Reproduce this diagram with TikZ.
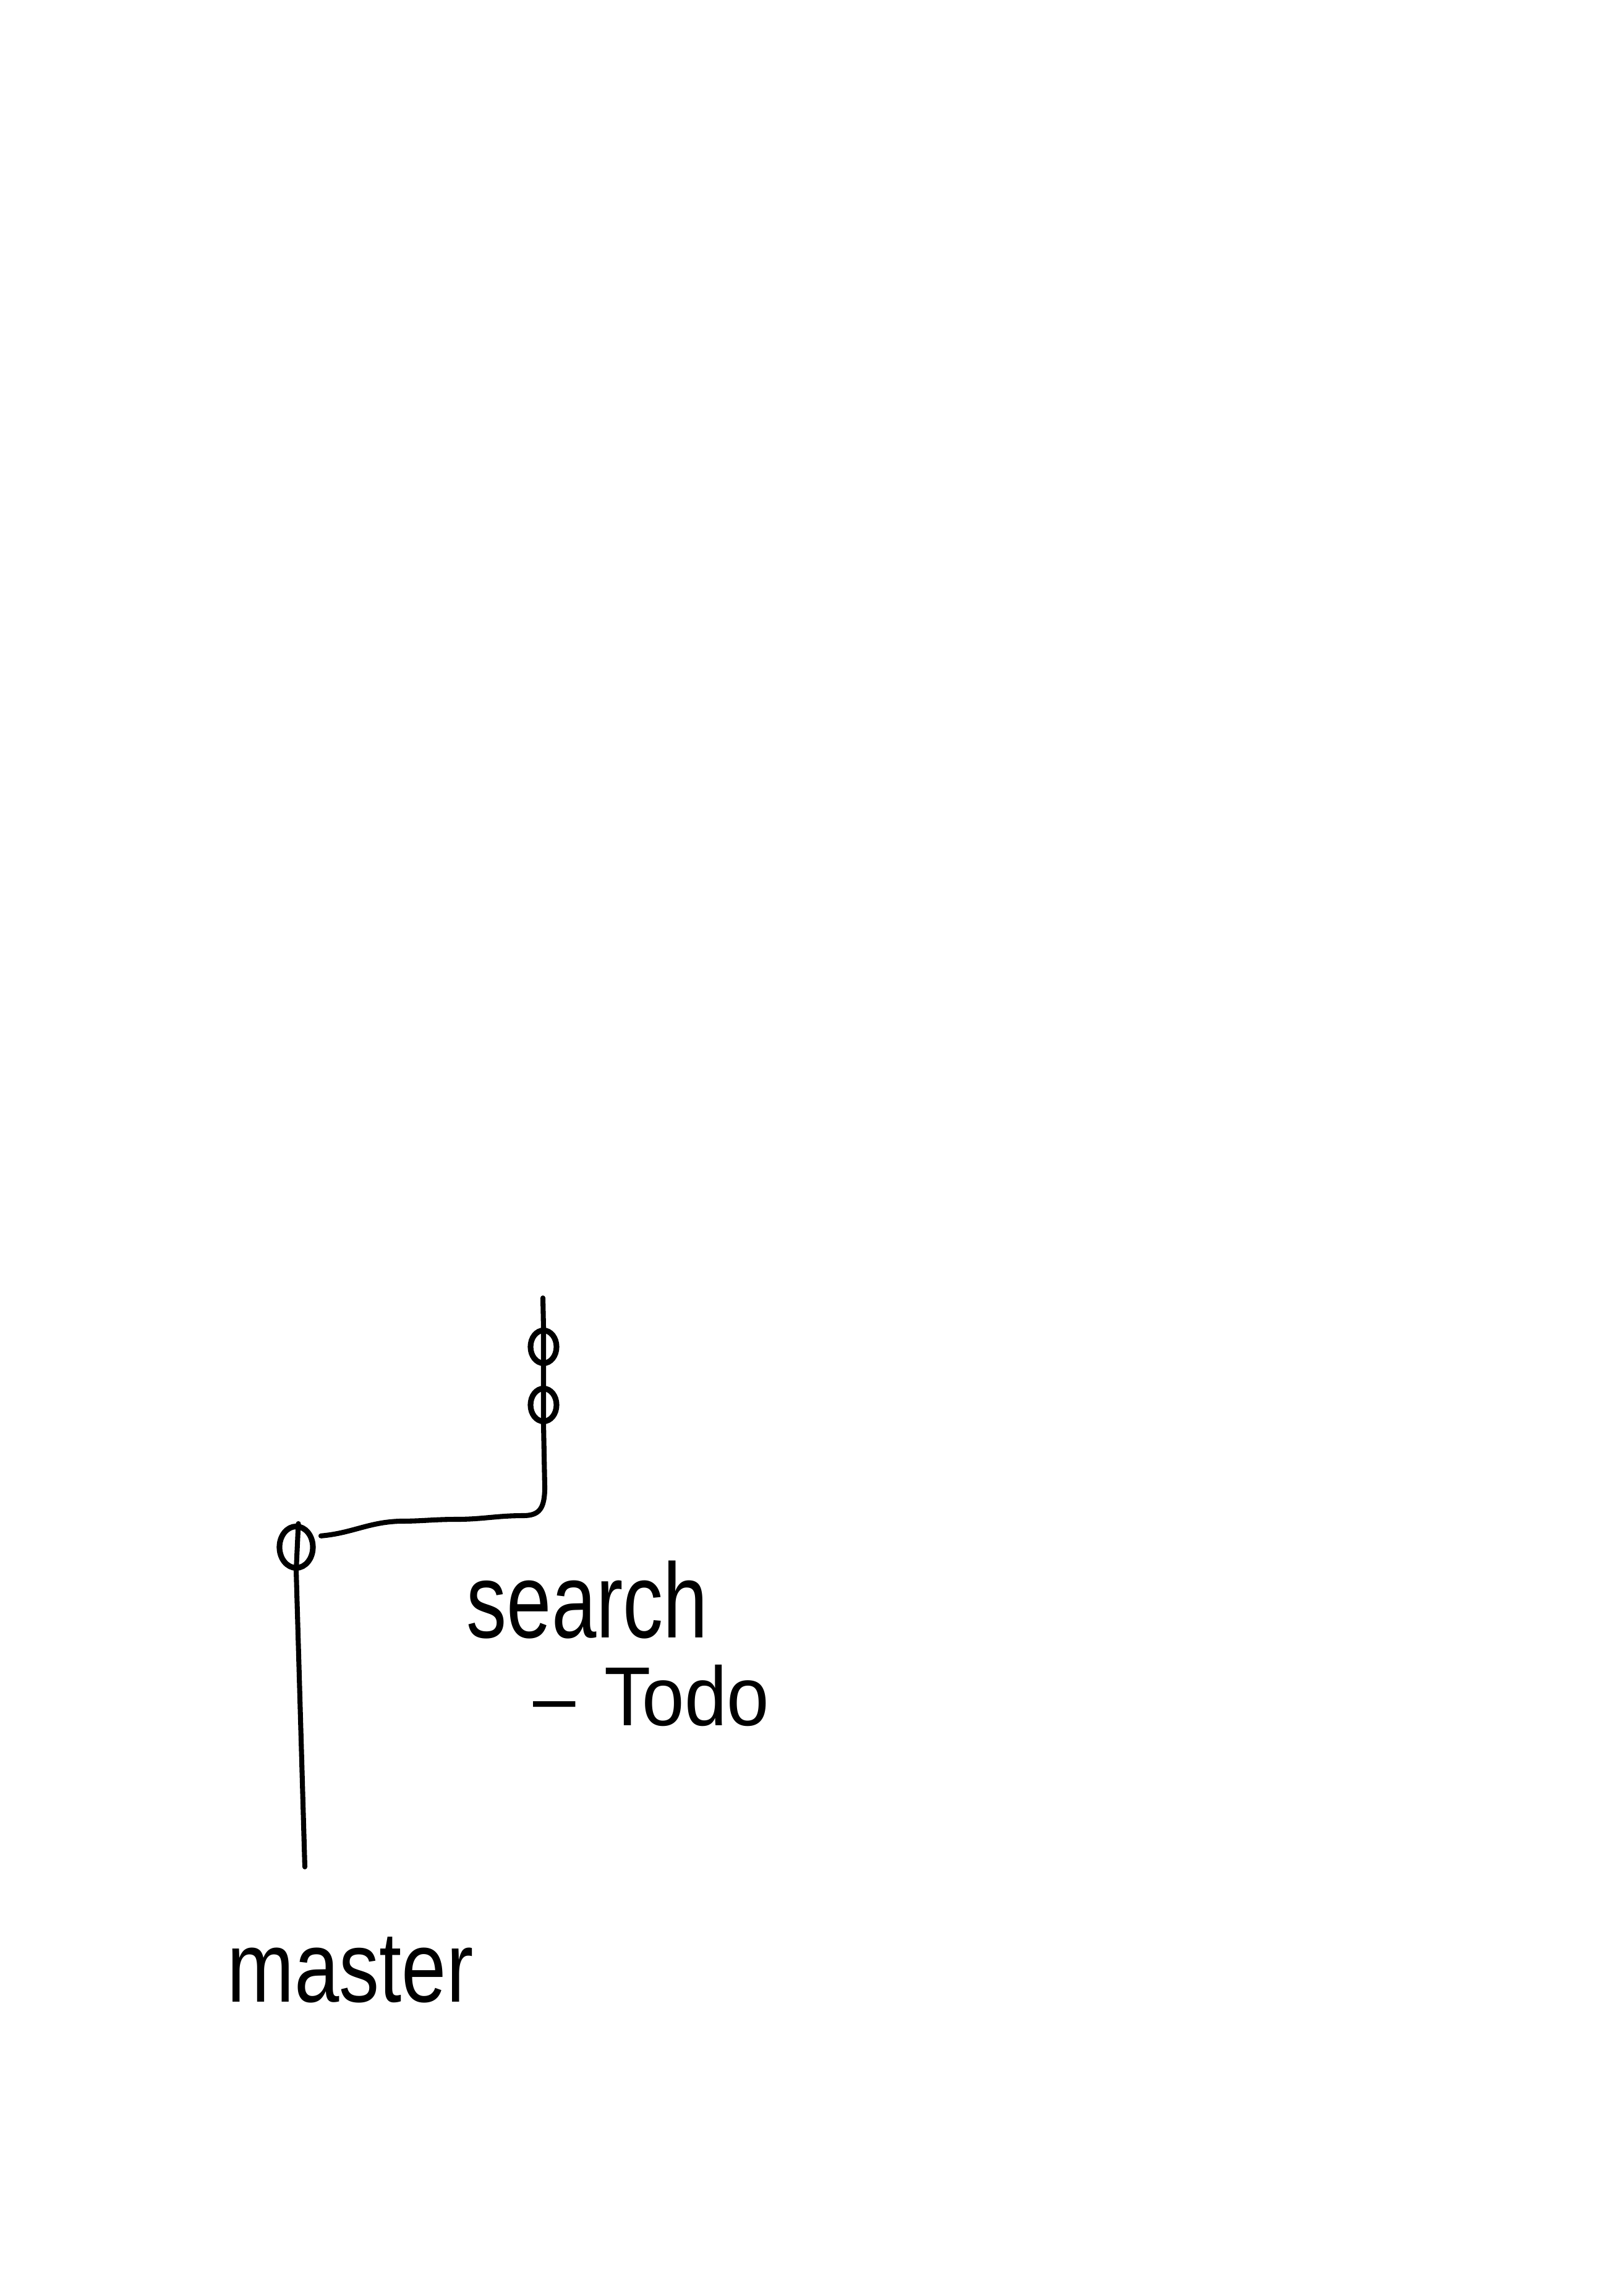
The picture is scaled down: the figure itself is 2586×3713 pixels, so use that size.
\documentclass[tikz,border=0pt]{standalone}
\usepackage{fontspec}
\setmainfont{Liberation Sans}
\usetikzlibrary{shapes.geometric}
\tikzset{
  pen/.style={line width=2.3pt, line cap=round, line join=round, black},
  commit/.style={ellipse, draw, line width=2.6pt, inner sep=0pt},
  smallcommit/.style={commit, minimum width=0.42cm, minimum height=0.53cm},
  bigcommit/.style={commit, minimum width=0.54cm, minimum height=0.67cm},
  label/.style={inner sep=0pt, anchor=base west}
}
\begin{document}
\begin{tikzpicture}[x=0.01cm,y=-0.01cm]
\useasboundingbox[fill=white] (0,0) rectangle (2586,3713);
% commits
\node[smallcommit] (c1) at (879,2178) {};
\node[smallcommit] (c2) at (879,2272) {};
\node[bigcommit]   (c0) at (479,2502) {};
\coordinate (top) at (878,2099);
\coordinate (bend) at (881,2405);
\coordinate (elbow) at (846,2451);
\coordinate (w1) at (738,2457);
\coordinate (w2) at (646,2460);
\coordinate (bottom) at (493,3019);
% branch lines (the line runs through the commit circles)
\draw[pen] (top) -- (c1.north) -- (c1.south) -- (c2.north) -- (c2.south) -- (bend)
  .. controls (881,2440) and (872,2451) .. (elbow)
  to[out=180,in=0] (w1) to[out=180,in=0] (w2) to[out=182,in=5] ([shift={(4pt,-1pt)}]c0.40);
\draw[pen] ([xshift=1pt]c0.north) -- (c0.south) -- (bottom);
% labels
\node[label, font=\fontsize{37}{40}\selectfont] (search) at (754,2648) {\scalebox{1}[1.32]{search}};
\node[label, font=\fontsize{35}{40}\selectfont] (todo) at (862,2790) {\scalebox{1}[1.1]{–\hspace{0.46cm}Todo}};
\node[label, font=\fontsize{37}{40}\selectfont] (master) at (367,3237) {\scalebox{1}[1.25]{master}};
\end{tikzpicture}
\end{document}
